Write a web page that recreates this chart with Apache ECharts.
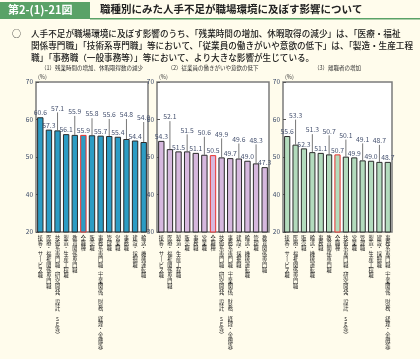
<!DOCTYPE html>
<html><head><meta charset="utf-8">
<script src="https://cdn.jsdelivr.net/npm/echarts@6/dist/echarts.min.js"></script>
<style>html,body{margin:0;padding:0;background:#fffcec}#c{width:420px;height:359px}</style>
</head><body><div id="c"></div>
<script>
// ---- data ----
const cats1 = ['接客・サービス職','医療・福祉関係専門職','技術系専門職（研究開発、設計、SE等）','製造・生産工程職','教育関係専門職','全職種','販売職','事務系専門職（士業関係、財務、経理・金融等）','管理職','営業職','事務職','建設・採掘職','輸送・機械運転職'];
const vals1 = [60.6,57.3,57.1,56.1,55.9,55.9,55.8,55.7,55.6,55.4,54.8,54.4,54.0];
const cats2 = ['接客・サービス職','医療・福祉関係専門職','製造・生産工程職','販売職','事務職','営業職','全職種','技術系専門職（研究開発、設計、SE等）','事務系専門職（士業関係、財務、経理・金融等）','建設・採掘職','輸送・機械運転職','管理職','教育関係専門職'];
const vals2 = [54.3,52.1,51.5,51.5,51.1,50.6,50.5,49.9,49.7,49.6,49.0,48.3,47.3];
const cats3 = ['接客・サービス職','医療・福祉関係専門職','販売職','輸送・機械運転職','事務職','教育関係専門職','全職種','技術系専門職（研究開発、設計、SE等）','営業職','管理職','製造・生産工程職','建設・採掘職','事務系専門職（士業関係、財務、経理・金融等）'];
const vals3 = [55.6,53.3,52.3,51.3,51.1,50.7,50.7,50.1,49.9,49.1,49.0,48.7,48.7];
const yTicks = [30,40,50,60,70];
const subtitles = ['（1）残業時間の増加、休暇取得数の減少','（2）従業員の働きがいや意欲の低下','（3）離職者の増加'];
const figNo = '第2-(1)-21図';
const titleText = '職種別にみた人手不足が職場環境に及ぼす影響について';
const bodyLines = [
  '人手不足が職場環境に及ぼす影響のうち、「残業時間の増加、休暇取得の減少」は、「医療・福祉',
  '関係専門職」「技術系専門職」等において、「従業員の働きがいや意欲の低下」は、「製造・生産工程',
  '職」「事務職（一般事務等）」等において、より大きな影響が生じている。'
];

// ---- layout (not data) ----
const panels = [
  {cats:cats1, vals:vals1, left:36, width:112, fill:'#2c9cc4', bottomLabel:'20', raised:{2:20,4:21,6:19,8:19,10:22,12:22}},
  {cats:cats2, vals:vals2, left:157, width:112, fill:'#d6b8de', bottomLabel:'30', raised:{1:30,3:19,5:20,7:21,9:17,11:21}},
  {cats:cats3, vals:vals3, left:283, width:109, fill:'#b3dbbd', bottomLabel:'20', raised:{1:27,3:20,5:21,7:19,9:19,11:19}}
];
const TOP = 82, H = 150;
const vmap = {'（':'︵','）':'︶','、':'︑','ー':'丨'};
const vert = s => Array.from(s).map(c => vmap[c] || c).join('\n');
const FONT = '"Noto Sans CJK JP", sans-serif';
const labelColor = '#44506e';

const grid = [], xAxis = [], yAxis = [], series = [];
panels.forEach((p, k) => {
  grid.push({left:p.left, top:TOP, width:p.width, height:H, show:true, backgroundColor:'#ffffff', borderColor:'#7b7b7b', borderWidth:1.5});
  xAxis.push({type:'category', gridIndex:k, data:p.cats, axisLine:{show:false}, axisTick:{show:false},
    axisLabel:{interval:0, margin:3, fontSize:5.2, lineHeight:5.4, color:'#222', fontFamily:FONT, verticalAlign:'top', formatter:v => vert(v)}});
  yAxis.push({type:'value', gridIndex:k, min:30, max:70, interval:10, splitLine:{show:false}, axisLine:{show:false},
    axisTick:{show:true, inside:true, length:3, lineStyle:{color:'#555'}},
    axisLabel:{margin:3, fontSize:6.5, color:'#3b4a68', fontFamily:FONT, formatter:v => v === yTicks[0] ? p.bottomLabel : String(v)}});
  series.push({type:'bar', xAxisIndex:k, yAxisIndex:k, barWidth:'74%',
    data:p.vals.map((v, i) => ({value:v,
      itemStyle:{color:p.fill, borderColor:p.cats[i] === '全職種' ? '#e8322e' : '#2b2b2b', borderWidth:1},
      label:{show:!(i in p.raised)}})),
    label:{show:true, position:'top', distance:1, fontSize:6.8, color:labelColor, fontFamily:FONT, formatter:q => q.value.toFixed(1)}});
  const rdata = Object.keys(p.raised).map(i => [Number(i), p.vals[i], p.raised[i]]);
  series.push({type:'custom', xAxisIndex:k, yAxisIndex:k, data:rdata, encode:{x:0, y:1}, z:5,
    renderItem:(params, api) => {
      const v = api.value(1), len = api.value(2);
      const pt = api.coord([api.value(0), v]);
      return {type:'group', children:[
        {type:'line', shape:{x1:pt[0], y1:pt[1], x2:pt[0], y2:pt[1] - len + 2}, style:{stroke:'#555', lineWidth:0.8}},
        {type:'text', x:pt[0], y:pt[1] - len + 1, style:{text:v.toFixed(1), fill:labelColor, font:'6.8px ' + FONT, align:'center', verticalAlign:'bottom'}}
      ]};
    }});
});

const graphic = [
  {type:'rect', left:0, top:2, shape:{width:90, height:17}, style:{fill:'#5aa267'}},
  {type:'text', left:8, top:4, style:{text:figNo, fill:'#fff', font:'bold 11px ' + FONT}},
  {type:'rect', left:90, top:18, shape:{width:330, height:1.5}, style:{fill:'#5aa267'}},
  {type:'text', left:100, top:4, style:{text:titleText, fill:'#222', font:'bold 10.5px ' + FONT}},
  {type:'text', left:12, top:29, style:{text:'○', fill:'#222', font:'9px ' + FONT}},
];
bodyLines.forEach((t, i) => graphic.push({type:'text', left:31, top:29 + i * 12, style:{text:t, fill:'#1a1a1a', font:'500 8.6px ' + FONT}}));
panels.forEach((p, k) => {
  graphic.push({type:'text', x:p.left + p.width / 2, y:68, style:{text:subtitles[k], fill:'#333', font:'5.5px ' + FONT, align:'center', verticalAlign:'middle'}});
  graphic.push({type:'text', x:p.left + 2, y:77, style:{text:'(%)', fill:'#333', font:'5.5px ' + FONT, align:'left', verticalAlign:'middle'}});
});

const chart = echarts.init(document.getElementById('c'), null, {renderer:'canvas'});
chart.setOption({backgroundColor:'#fffcec', animation:false, grid, xAxis, yAxis, series, graphic});
</script></body></html>
